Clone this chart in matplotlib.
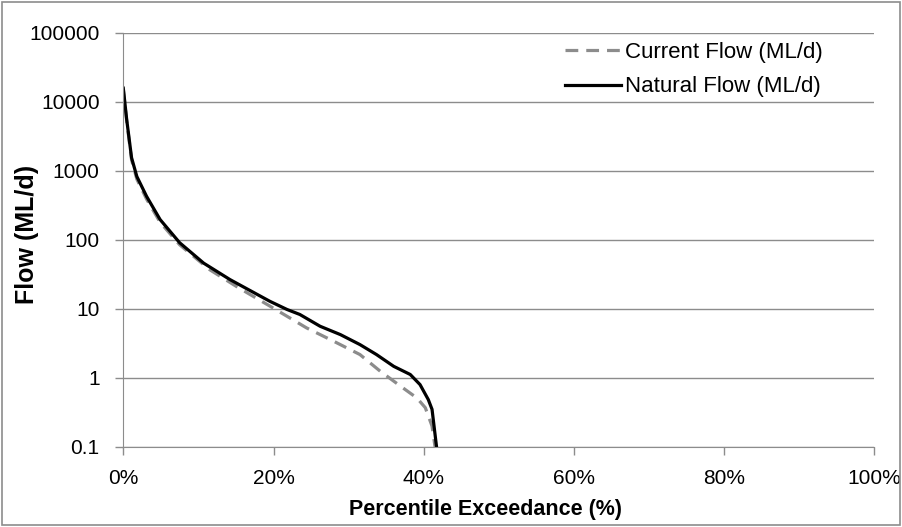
import numpy as np
import matplotlib
matplotlib.use('Agg')
import matplotlib.pyplot as plt
from matplotlib.ticker import FixedLocator, FixedFormatter

# 流況曲線データ
natural_pct = [0.0, 0.45, 1.1, 1.8, 3.1, 4.9, 7.5, 10.7, 14.2, 19.5, 21.8,
               23.5, 26.2, 28.9, 31.5, 33.7, 36.0, 38.2, 39.5, 40.6, 41.1, 41.7]
natural_flow = [15800, 5550, 1550, 830, 427, 197, 91, 46, 26.6, 12.9, 9.8,
                8.3, 5.6, 4.24, 3.04, 2.18, 1.47, 1.12, 0.80, 0.485, 0.35, 0.1]

current_pct = [0.0, 0.45, 1.1, 1.8, 3.1, 4.9, 7.5, 11.5, 15.1, 19.5, 24.4,
               28.0, 31.5, 34.2, 36.9, 39.1, 40.2, 41.1, 41.5]
current_flow = [15000, 5300, 1450, 760, 390, 180, 85, 37, 21, 11, 5.3,
                3.4, 2.18, 1.25, 0.76, 0.51, 0.37, 0.2, 0.1]

y_ticks = [0.1, 1, 10, 100, 1000, 10000, 100000]
y_labels = ['0.1', '1', '10', '100', '1000', '10000', '100000']
x_ticks = [0, 20, 40, 60, 80, 100]
x_labels = ['0%', '20%', '40%', '60%', '80%', '100%']

plt.rcParams['font.family'] = ['Liberation Sans', 'DejaVu Sans']

fig = plt.figure(figsize=(9.02, 5.27), dpi=100)
ax = fig.add_axes([0.1367, 0.152, 0.8328, 0.7856])

ax.plot(current_pct, current_flow, color='#8c8c8c', lw=2.3, ls=(0, (4, 2.5)),
        label='Current Flow (ML/d)')
ax.plot(natural_pct, natural_flow, color='black', lw=2.3,
        label='Natural Flow (ML/d)')

ax.set_yscale('log')
ax.set_ylim(0.1, 100000)
ax.set_xlim(0, 100)
ax.yaxis.set_major_locator(FixedLocator(y_ticks))
ax.yaxis.set_major_formatter(FixedFormatter(y_labels))
ax.yaxis.set_minor_locator(FixedLocator([]))
ax.set_xticks(x_ticks)
ax.set_xticklabels(x_labels)

ax.grid(True, axis='y', color='#8c8c8c', lw=1)
ax.set_axisbelow(True)
for s in ['top', 'right']:
    ax.spines[s].set_visible(False)
for s in ['left', 'bottom']:
    ax.spines[s].set_color('#8c8c8c')
ax.tick_params(axis='both', colors='#8c8c8c', labelcolor='black',
               labelsize=15, length=6, width=1)
ax.tick_params(axis='y', pad=11)
ax.tick_params(axis='x', pad=10)

ax.set_xlabel('Percentile Exceedance (%)', fontsize=15.5, fontweight='bold')
ax.xaxis.set_label_coords(0.4816, -0.125)
ax.set_ylabel('Flow (ML/d)', fontsize=18, fontweight='bold', va='center')
ax.yaxis.set_label_coords(-0.128, 0.512)

ax.legend(loc='upper left', bbox_to_anchor=(0.588, 0.978), frameon=False,
          borderpad=0, borderaxespad=0,
          fontsize=16, handlelength=2.5, handletextpad=0.2, labelspacing=0.6)

# 外枠
fig.patches.append(plt.Rectangle((0.002, 0.003), 0.996, 0.994, transform=fig.transFigure,
                                 fill=False, edgecolor='#8c8c8c', lw=1.2))

fig.savefig('out.png', dpi=100)
